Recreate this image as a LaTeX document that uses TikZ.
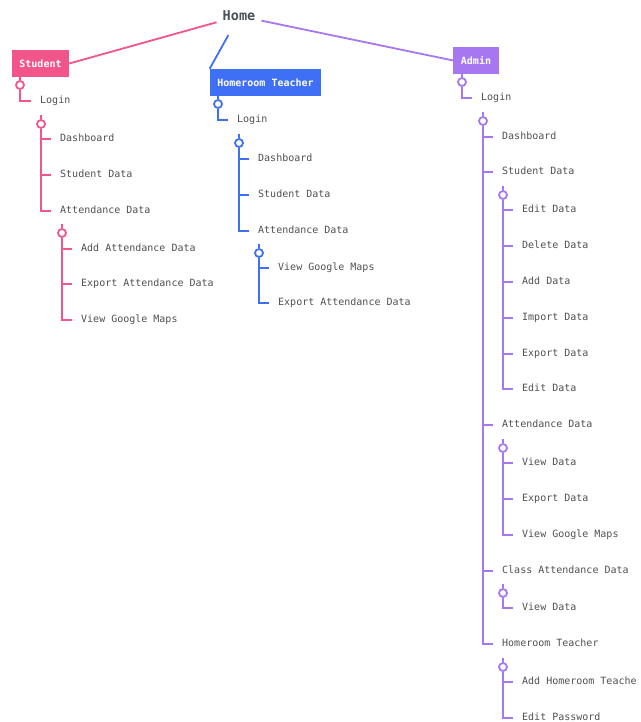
\documentclass[tikz,border=0pt]{standalone}
\usepackage{fontspec}
\setmonofont{DejaVu Sans Mono}
\definecolor{stdpink}{HTML}{F2558A}
\definecolor{hrblue}{HTML}{3F6FF4}
\definecolor{admpurple}{HTML}{A677F0}
\definecolor{labelgray}{HTML}{505050}
\definecolor{homegray}{HTML}{4A4F5A}

\begin{document}
\begin{tikzpicture}[
  x=1pt,y=-1pt,
  every node/.append style={font=\ttfamily\fontsize{10}{12}\selectfont},
  role/.style={fill=#1,text=white,font=\ttfamily\bfseries\fontsize{10}{12}\selectfont,minimum height=27pt,inner xsep=7.5pt},
  item/.style={anchor=west,inner xsep=9pt,inner ysep=0pt,text height=7.5pt,text depth=2pt,text=labelgray},
  knob/.style={circle,draw=#1,line width=1.8pt,fill=white,minimum size=8pt,inner sep=0pt},
  link/.style={line width=1.8pt,#1}
]
  \useasboundingbox (0,0) rectangle (640,722);
  \clip (0,0) rectangle (640,722);

  \node[font=\ttfamily\bfseries\fontsize{13.5}{16}\selectfont,text=homegray,inner sep=6pt] (home) at (239,16) {Home};
  \node[role=stdpink] (student) at (40.5,63.5) {Student};
  \node[role=hrblue] (teacher) at (265.5,82.5) {Homeroom Teacher};
  \node[role=admpurple] (admin) at (476,60.5) {Admin};

  \draw[link=stdpink] (home) -- (student.east);
  \draw[link=hrblue,shorten <=9pt] (home) -- (teacher.north west);
  \draw[link=admpurple] (home) -- (admin.west);

  % student
  \node[knob=stdpink] (sk0) at (20,85) {};
  \node[item] (slogin) at (31,101) {Login};
  \node[knob=stdpink] (sk1) at (41,124) {};
  \node[item] (sdash) at (51,139) {Dashboard};
  \node[item] (sdata) at (51,175) {Student Data};
  \node[item] (satt) at (51,211) {Attendance Data};
  \node[knob=stdpink] (sk2) at (62,233) {};
  \node[item] (sadd) at (72,249) {Add Attendance Data};
  \node[item] (sexp) at (72,284) {Export Attendance Data};
  \node[item] (smaps) at (72,320) {View Google Maps};

  \draw[link=stdpink] (student.south -| sk0) -- (sk0.north);
  \draw[link=stdpink] (sk0.south) |- (slogin.west);
  \draw[link=stdpink] (sk1.north) -- ++(0,-4);
  \draw[link=stdpink] (sk1.south) |- (satt.west);
  \foreach \n in {sdash,sdata}
    \draw[link=stdpink] (sk1 |- \n.west) -- (\n.west);
  \draw[link=stdpink] (sk2.north) -- ++(0,-4);
  \draw[link=stdpink] (sk2.south) |- (smaps.west);
  \draw[link=stdpink] (sk2 |- sadd.west) -- (sadd.west);
  \draw[link=stdpink] (sk2 |- sexp.west) -- (sexp.west);

  % homeroom teacher
  \node[knob=hrblue] (tk0) at (218,104) {};
  \node[item] (tlogin) at (228,120) {Login};
  \node[knob=hrblue] (tk1) at (239,143) {};
  \node[item] (tdash) at (249,159) {Dashboard};
  \node[item] (tdata) at (249,195) {Student Data};
  \node[item] (tatt) at (249,231) {Attendance Data};
  \node[knob=hrblue] (tk2) at (259,253) {};
  \node[item] (tmaps) at (269,268) {View Google Maps};
  \node[item] (texp) at (269,303) {Export Attendance Data};

  \draw[link=hrblue] (teacher.south -| tk0) -- (tk0.north);
  \draw[link=hrblue] (tk0.south) |- (tlogin.west);
  \draw[link=hrblue] (tk1.north) -- ++(0,-4);
  \draw[link=hrblue] (tk1.south) |- (tatt.west);
  \foreach \n in {tdash,tdata}
    \draw[link=hrblue] (tk1 |- \n.west) -- (\n.west);
  \draw[link=hrblue] (tk2.north) -- ++(0,-4);
  \draw[link=hrblue] (tk2.south) |- (texp.west);
  \draw[link=hrblue] (tk2 |- tmaps.west) -- (tmaps.west);

  % admin
  \node[knob=admpurple] (ak0) at (462,82) {};
  \node[item] (alogin) at (472,98) {Login};
  \node[knob=admpurple] (ak1) at (483,121) {};
  \node[item] (adash) at (493,137) {Dashboard};
  \node[item] (adata) at (493,172) {Student Data};
  \node[item] (aatt) at (493,425) {Attendance Data};
  \node[item] (aclass) at (493,571) {Class Attendance Data};
  \node[item] (ateach) at (493,644) {Homeroom Teacher};

  \node[knob=admpurple] (ak2) at (503,195) {};
  \node[item] (aedit) at (513,210) {Edit Data};
  \node[item] (adel) at (513,246) {Delete Data};
  \node[item] (aadd) at (513,282) {Add Data};
  \node[item] (aimp) at (513,318) {Import Data};
  \node[item] (aexp) at (513,354) {Export Data};
  \node[item] (aedit2) at (513,389) {Edit Data};

  \node[knob=admpurple] (ak3) at (503,448) {};
  \node[item] (aview) at (513,463) {View Data};
  \node[item] (aexpatt) at (513,499) {Export Data};
  \node[item] (amaps) at (513,535) {View Google Maps};

  \node[knob=admpurple] (ak4) at (503,593) {};
  \node[item] (aview2) at (513,608) {View Data};

  \node[knob=admpurple] (ak5) at (503,667) {};
  \node[item] (aaddt) at (513,682) {Add Homeroom Teache};
  \node[item] (apass) at (513,718) {Edit Password};

  \draw[link=admpurple] (admin.south -| ak0) -- (ak0.north);
  \draw[link=admpurple] (ak0.south) |- (alogin.west);
  \draw[link=admpurple] (ak1.north) -- ++(0,-4);
  \draw[link=admpurple] (ak1.south) |- (ateach.west);
  \foreach \n in {adash,adata,aatt,aclass}
    \draw[link=admpurple] (ak1 |- \n.west) -- (\n.west);
  \draw[link=admpurple] (ak2.north) -- ++(0,-4);
  \draw[link=admpurple] (ak2.south) |- (aedit2.west);
  \foreach \n in {aedit,adel,aadd,aimp,aexp}
    \draw[link=admpurple] (ak2 |- \n.west) -- (\n.west);
  \draw[link=admpurple] (ak3.north) -- ++(0,-4);
  \draw[link=admpurple] (ak3.south) |- (amaps.west);
  \foreach \n in {aview,aexpatt}
    \draw[link=admpurple] (ak3 |- \n.west) -- (\n.west);
  \draw[link=admpurple] (ak4.north) -- ++(0,-4);
  \draw[link=admpurple] (ak4.south) |- (aview2.west);
  \draw[link=admpurple] (ak5.north) -- ++(0,-4);
  \draw[link=admpurple] (ak5.south) |- (apass.west);
  \draw[link=admpurple] (ak5 |- aaddt.west) -- (aaddt.west);
\end{tikzpicture}
\end{document}
